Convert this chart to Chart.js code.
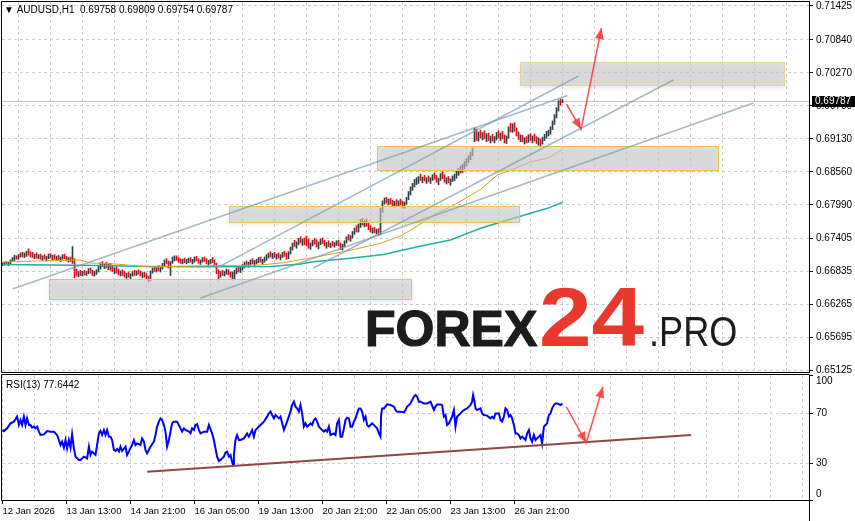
<!DOCTYPE html>
<html>
<head>
<meta charset="utf-8">
<script src="https://cdn.jsdelivr.net/npm/chart.js@4.4.1/dist/chart.umd.min.js"></script>
<style>
  html, body { margin: 0; padding: 0; background: #fff; }
  #wrap { position: relative; width: 855px; height: 521px; overflow: hidden; }
  #main { position: absolute; left: 0; top: 0; }
  #rsi { position: absolute; left: 0; top: 373px; }
</style>
</head>
<body>
<div id="wrap">
  <canvas id="main" width="855" height="373"></canvas>
  <canvas id="rsi" width="855" height="148"></canvas>
</div>
<script>
// AUDUSD H1, one candle per hour from 12 Jan 2026 05:00
const symbol = 'AUDUSD,H1';
const firstOpen = 0.6695;
const highs = [
  0.6699,0.6700,0.6701,0.6700,0.6704,0.6708,0.6712,0.6711,0.6713,0.6716,
  0.6717,0.6716,0.6719,0.6723,0.6718,0.6717,0.6714,0.6716,0.6713,0.6714,
  0.6711,0.6713,0.6710,0.6714,0.6715,0.6712,0.6713,0.6710,0.6712,0.6709,
  0.6713,0.6714,0.6710,0.6708,0.6709,0.6727,0.6706,0.6688,0.6684,0.6686,
  0.6684,0.6686,0.6684,0.6689,0.6690,0.6686,0.6684,0.6687,0.6693,0.6699,
  0.6701,0.6698,0.6700,0.6697,0.6698,0.6694,0.6690,0.6692,0.6688,0.6685,
  0.6687,0.6684,0.6681,0.6683,0.6680,0.6684,0.6686,0.6685,0.6687,0.6685,
  0.6682,0.6683,0.6680,0.6676,0.6685,0.6690,0.6692,0.6691,0.6694,0.6693,
  0.6698,0.6704,0.6706,0.6702,0.6701,0.6709,0.6711,0.6711,0.6708,0.6706,
  0.6705,0.6707,0.6705,0.6707,0.6708,0.6705,0.6709,0.6710,0.6706,0.6704,
  0.6708,0.6709,0.6706,0.6703,0.6705,0.6708,0.6704,0.6698,0.6687,0.6684,
  0.6686,0.6684,0.6688,0.6687,0.6683,0.6683,0.6686,0.6690,0.6693,0.6692,
  0.6696,0.6700,0.6702,0.6700,0.6704,0.6706,0.6703,0.6705,0.6708,0.6709,
  0.6705,0.6709,0.6713,0.6716,0.6718,0.6715,0.6717,0.6714,0.6716,0.6713,
  0.6717,0.6719,0.6716,0.6718,0.6726,0.6733,0.6738,0.6735,0.6741,0.6744,
  0.6740,0.6742,0.6745,0.6740,0.6733,0.6738,0.6741,0.6739,0.6735,0.6740,
  0.6742,0.6738,0.6734,0.6737,0.6733,0.6736,0.6734,0.6737,0.6738,0.6733,
  0.6731,0.6737,0.6744,0.6748,0.6746,0.6753,0.6759,0.6763,0.6766,0.6774,
  0.6776,0.6772,0.6775,0.6768,0.6763,0.6759,0.6760,0.6757,0.6758,0.6793,
  0.6806,0.6811,0.6812,0.6809,0.6810,0.6807,0.6805,0.6808,0.6806,0.6809,
  0.6805,0.6804,0.6812,0.6822,0.6830,0.6836,0.6843,0.6846,0.6848,0.6852,
  0.6847,0.6850,0.6846,0.6849,0.6846,0.6851,0.6854,0.6850,0.6845,0.6853,
  0.6856,0.6851,0.6846,0.6848,0.6844,0.6849,0.6852,0.6857,0.6862,0.6866,
  0.6869,0.6874,0.6879,0.6884,0.6890,0.6897,0.6932,0.6930,0.6925,0.6928,
  0.6924,0.6927,0.6922,0.6923,0.6918,0.6921,0.6917,0.6924,0.6927,0.6923,
  0.6926,0.6920,0.6918,0.6934,0.6940,0.6939,0.6941,0.6932,0.6925,0.6920,
  0.6919,0.6915,0.6917,0.6920,0.6922,0.6918,0.6921,0.6917,0.6915,0.6913,
  0.6916,0.6921,0.6926,0.6928,0.6934,0.6944,0.6955,0.6967,0.6979,0.6982,0.69809
];
const lows = [
  0.6694,0.6695,0.6696,0.6694,0.6697,0.6701,0.6703,0.6705,0.6705,0.6709,
  0.6709,0.6708,0.6710,0.6712,0.6709,0.6708,0.6706,0.6707,0.6706,0.6705,
  0.6703,0.6705,0.6702,0.6706,0.6707,0.6704,0.6705,0.6703,0.6704,0.6701,
  0.6705,0.6706,0.6702,0.6700,0.6701,0.6698,0.6673,0.6676,0.6675,0.6677,
  0.6676,0.6678,0.6677,0.6680,0.6681,0.6677,0.6676,0.6679,0.6683,0.6688,
  0.6692,0.6689,0.6690,0.6687,0.6686,0.6684,0.6680,0.6681,0.6678,0.6676,
  0.6677,0.6674,0.6672,0.6674,0.6671,0.6676,0.6677,0.6677,0.6679,0.6676,
  0.6673,0.6674,0.6670,0.6666,0.6668,0.6681,0.6684,0.6683,0.6685,0.6683,
  0.6688,0.6694,0.6697,0.6690,0.6677,0.6698,0.6702,0.6703,0.6700,0.6698,
  0.6697,0.6699,0.6697,0.6699,0.6700,0.6697,0.6700,0.6702,0.6698,0.6696,
  0.6700,0.6701,0.6697,0.6695,0.6697,0.6699,0.6694,0.6680,0.6669,0.6674,
  0.6677,0.6676,0.6679,0.6678,0.6674,0.6669,0.6671,0.6680,0.6683,0.6682,
  0.6686,0.6690,0.6693,0.6691,0.6695,0.6697,0.6694,0.6697,0.6699,0.6700,
  0.6696,0.6700,0.6703,0.6707,0.6709,0.6706,0.6708,0.6705,0.6707,0.6704,
  0.6708,0.6710,0.6705,0.6706,0.6714,0.6721,0.6727,0.6724,0.6730,0.6733,
  0.6729,0.6730,0.6728,0.6724,0.6722,0.6728,0.6731,0.6726,0.6723,0.6730,
  0.6732,0.6728,0.6724,0.6727,0.6725,0.6728,0.6726,0.6729,0.6728,0.6722,
  0.6721,0.6727,0.6733,0.6738,0.6736,0.6742,0.6748,0.6752,0.6752,0.6760,
  0.6764,0.6761,0.6762,0.6756,0.6752,0.6750,0.6751,0.6749,0.6747,0.6748,
  0.6786,0.6800,0.6802,0.6799,0.6800,0.6797,0.6795,0.6798,0.6796,0.6799,
  0.6794,0.6793,0.6800,0.6808,0.6816,0.6824,0.6830,0.6834,0.6836,0.6841,
  0.6837,0.6840,0.6836,0.6839,0.6836,0.6841,0.6843,0.6838,0.6834,0.6841,
  0.6844,0.6838,0.6835,0.6837,0.6833,0.6839,0.6841,0.6845,0.6850,0.6854,
  0.6855,0.6861,0.6866,0.6872,0.6877,0.6884,0.6908,0.6910,0.6909,0.6914,
  0.6911,0.6913,0.6908,0.6910,0.6906,0.6909,0.6906,0.6911,0.6914,0.6910,
  0.6913,0.6906,0.6905,0.6914,0.6925,0.6924,0.6926,0.6918,0.6912,0.6908,
  0.6908,0.6904,0.6906,0.6907,0.6910,0.6906,0.6909,0.6905,0.6902,0.6899,
  0.6904,0.6910,0.6914,0.6918,0.6921,0.6929,0.6938,0.6949,0.6961,0.6971,0.69754
];
const closes = [
  0.6697,0.6699,0.6697,0.6699,0.6703,0.6706,0.6710,0.6707,0.6712,0.6713,
  0.6711,0.6714,0.6717,0.6715,0.6712,0.6710,0.6713,0.6709,0.6711,0.6707,
  0.6709,0.6706,0.6708,0.6712,0.6709,0.6710,0.6707,0.6708,0.6706,0.6707,
  0.6711,0.6708,0.6705,0.6706,0.6703,0.6704,0.6684,0.6679,0.6681,0.6679,
  0.6682,0.6680,0.6683,0.6687,0.6683,0.6680,0.6682,0.6685,0.6691,0.6696,
  0.6694,0.6696,0.6692,0.6695,0.6689,0.6686,0.6688,0.6683,0.6680,0.6683,
  0.6679,0.6676,0.6679,0.6676,0.6678,0.6682,0.6680,0.6683,0.6681,0.6678,
  0.6680,0.6676,0.6672,0.6669,0.6683,0.6688,0.6686,0.6689,0.6687,0.6691,
  0.6696,0.6701,0.6699,0.6692,0.6699,0.6707,0.6709,0.6706,0.6703,0.6701,
  0.6703,0.6701,0.6703,0.6705,0.6702,0.6703,0.6707,0.6704,0.6700,0.6702,
  0.6706,0.6703,0.6699,0.6701,0.6703,0.6701,0.6696,0.6683,0.6676,0.6682,
  0.6680,0.6682,0.6685,0.6680,0.6677,0.6681,0.6684,0.6688,0.6686,0.6690,
  0.6694,0.6697,0.6695,0.6698,0.6702,0.6700,0.6701,0.6703,0.6706,0.6702,
  0.6703,0.6707,0.6711,0.6714,0.6712,0.6713,0.6710,0.6711,0.6709,0.6711,
  0.6715,0.6712,0.6708,0.6716,0.6724,0.6731,0.6729,0.6733,0.6739,0.6736,
  0.6738,0.6733,0.6730,0.6727,0.6731,0.6736,0.6733,0.6728,0.6733,0.6738,
  0.6734,0.6730,0.6732,0.6729,0.6731,0.6730,0.6732,0.6735,0.6730,0.6725,
  0.6729,0.6735,0.6741,0.6740,0.6744,0.6751,0.6756,0.6754,0.6763,0.6771,
  0.6766,0.6769,0.6764,0.6758,0.6755,0.6757,0.6753,0.6755,0.6750,0.6789,
  0.6803,0.6808,0.6804,0.6806,0.6802,0.6800,0.6803,0.6801,0.6804,0.6801,
  0.6797,0.6801,0.6810,0.6819,0.6827,0.6833,0.6838,0.6841,0.6845,0.6843,
  0.6844,0.6842,0.6843,0.6841,0.6844,0.6849,0.6846,0.6840,0.6843,0.6850,
  0.6847,0.6841,0.6843,0.6839,0.6842,0.6847,0.6850,0.6855,0.6859,0.6857,
  0.6866,0.6871,0.6877,0.6881,0.6887,0.6894,0.6927,0.6914,0.6921,0.6917,
  0.6920,0.6915,0.6918,0.6912,0.6915,0.6911,0.6914,0.6921,0.6917,0.6920,
  0.6916,0.6909,0.6915,0.6931,0.6928,0.6936,0.6929,0.6921,0.6915,0.6917,
  0.6911,0.6912,0.6909,0.6917,0.6913,0.6915,0.6912,0.6908,0.6911,0.6906,
  0.6914,0.6918,0.6923,0.6926,0.6931,0.6941,0.6952,0.6964,0.6977,0.69758,0.69787
];
// each candle opens where the previous one closed
const opens = closes.map((c, i) => i === 0 ? firstOpen : closes[i - 1]);

// moving averages (orange and teal), read at a few bars
const maFastBars = [0,16.5,39,44,56.5,74,94,109,129,140.5,157.5,174,189,199,207.5,215.5,224,239,247.5,255.5,264,272.5,280];
const maFastValues = [0.67003,0.67020,0.67037,0.66986,0.66968,0.66917,0.66934,0.66942,0.66951,0.66991,0.67094,0.67205,0.67326,0.67452,0.67625,0.67815,0.67953,0.68255,0.68506,0.68609,0.68735,0.68794,0.68950];
const maSlowBars = [0,24,49,74,99,134,149,155.5,174,190.5,207.5,224,239,255.5,272.5,280];
const maSlowValues = [0.66960,0.66951,0.66942,0.66925,0.66922,0.66925,0.66968,0.67008,0.67067,0.67132,0.67267,0.67383,0.67585,0.67758,0.67930,0.68034];

// RSI(13)
const rsiBars = [
  0,0.7,2.3,4,5.7,7.3,8.2,9,9.8,10.7,
  11.5,12.3,13.2,14,14.8,15.7,16.5,17.3,18.2,19,
  20.7,22.3,24,25.7,27.3,28.2,29,29.8,30.7,31.5,
  32.3,33.2,34,34.8,35.7,36.5,38.2,39,40.7,42.3,
  43.2,44,44.8,46.5,47.3,48.2,49,49.8,50.7,51.5,
  52.3,53.2,54,54.8,55.7,56.5,57.3,58.2,59,59.8,
  61.5,62.3,63.2,64,64.8,65.7,66.5,67.3,69,69.8,
  70.7,71.5,72.3,73.2,74,75.7,76.5,77.3,78.2,79,
  79.8,80.7,81.5,82.3,83.2,84,84.8,85.7,87.3,89,
  89.8,90.7,91.5,93.2,94,94.8,95.7,96.5,97.3,98.2,
  99,100.7,102.3,103.2,104,104.8,105.7,106.5,107.3,108.2,
  109,109.8,110.7,111.5,112.3,113.2,114,114.8,115.3,115.7,
  116.5,117.3,118.2,119,120.7,122.3,123.2,124,124.8,125.7,
  126.5,127.3,129,130.7,132.3,133.2,134,134.8,135.7,136.5,
  138.2,139,140.7,142.3,144,144.8,145.7,146.5,147.3,148.2,
  149,149.8,150.7,151.5,152.3,153.2,154,154.8,155.7,156.5,
  157.3,158.2,159,160.7,161.5,162.3,163.2,164,165.7,166.5,
  167.3,168.2,169,169.8,170.7,171.5,172.3,173.2,174,174.8,
  175.7,176.5,177.3,178.2,179,179.8,180.7,181.5,182.3,183.2,
  184,184.8,186.5,187.3,188.2,189,189.3,189.8,190.7,192.3,
  194,195.7,196.5,197.3,199,200.7,201.5,202.3,203.2,204,
  205.7,206.5,207.3,208.2,209,210.7,212.3,214,215.7,216.5,
  217.3,219,219.8,220.7,221.5,222.3,223.2,224,224.8,225.7,
  226.5,227.3,228.2,229,229.8,230.7,232.3,233.2,234,234.8,
  235.3,236,236.5,237.3,239,239.8,240.7,242.3,244,244.8,
  245.7,246.5,248.2,249,249.8,250.7,251.5,252.3,253.2,254,
  254.8,255.7,256.5,257.3,258.2,259,259.8,261.5,262.3,263.2,
  264,264.8,265.7,266.5,267.3,268.2,269,269.8,270.7,271.5,
  272.3,273.2,274,274.8,275.7,276.5,277.3,279,280
];
const rsiValues = [
  56.4,55.5,57.7,61.7,63.1,67.1,60.4,64.4,60.4,67.1,
  60.4,65.7,60.4,60.4,58.3,59.1,57.7,59.1,55.1,52.4,
  52.9,55.6,55.1,55.1,52.4,48.4,44.4,47.1,42.3,48.4,
  41.7,48.4,42.3,52.9,41.7,35.1,32.4,32.4,35.1,33.7,
  43.1,36.4,39.1,36.4,44.4,53.7,55.6,52.4,56.4,52.4,
  56.4,51.1,51.1,48.4,40.4,39.6,41.2,39.1,43.1,39.6,
  43.1,36.4,39.1,42.3,44.4,48.4,44.4,45.7,44.4,49.7,
  47.1,40.4,37.7,40.4,43.1,47.1,52.4,59.1,63.1,65.7,
  64.4,60.4,55.1,43.1,48.4,55.1,61.7,63.1,63.1,57.7,
  55.1,57.7,56.4,55.1,53.7,57.7,56.4,60.4,61,56.4,
  53.7,55.1,55.1,60.4,57.2,53.7,48.4,41.7,35.1,31.6,
  32.4,33.7,35.1,38.5,39.1,35.1,36.4,31.1,28.4,36.4,
  48.4,52.4,48.4,48.4,49.7,53.7,51.1,53.7,56.4,51.1,
  56.4,57.7,60.4,63.1,67.1,69.7,71.1,68.4,65.7,68.4,
  65.7,67.1,56.4,63.1,71.1,76.4,79.1,75.1,73.7,71.1,
  76.4,69.7,59.1,61.7,59.1,60.4,61.7,60.4,64.4,65.7,
  63.1,59.1,57.7,55.1,56.4,55.1,59.1,52.4,53.7,52.4,
  61.7,64.4,51.1,51.1,57.7,64.4,66.3,65.7,59.1,59.1,
  63.1,65.7,69.7,73.7,73.7,71.1,64.4,67.1,60.4,59.1,
  60.4,61.7,59.1,57.7,53.7,51.1,68.4,73.7,73.7,76.9,
  76.4,75.1,72.4,71.1,71.1,70.5,72.4,75.1,76.4,77.7,
  83.1,84.4,83.1,79.1,79.1,77.7,77.7,79.1,72.4,75.1,
  76.9,76.9,76.4,67.1,68.4,60.4,61.7,64.4,67.1,72.4,
  59.1,67.1,68.4,69.7,71.1,72.4,73.7,75.1,76.4,79.1,
  84.4,79.1,73.7,72.4,73.7,69.7,68.4,67.9,65.7,67.1,
  65.7,69.7,69.7,64.4,63.1,67.1,73.7,72.4,67.1,68.4,
  65.7,60.4,53.7,53.7,52.4,49.7,51.1,48.4,53.7,56.4,
  49.7,47.1,52.4,48.4,49.7,51.1,52.4,45.7,59.1,60.4,
  61.7,68.4,69.7,73.7,76.4,77.7,77.7,76.4,77.6442
];

// axis ticks and time labels
const priceTicks = [0.71425,0.70840,0.70270,0.69700,0.69130,0.68560,0.67990,0.67405,0.66835,0.66265,0.65695,0.65125];
const rsiTicks = [100, 70, 30, 0];
const timeLabels = ['12 Jan 2026','13 Jan 13:00','14 Jan 21:00','16 Jan 05:00','19 Jan 13:00','20 Jan 21:00','22 Jan 05:00','23 Jan 13:00','26 Jan 21:00'];

// drawn objects: zones, trend lines, forecast arrows
const zoneFrom = [23, 113, 187, 258.5];
const zoneTo = [204, 258, 357.5, 390.5];
const zoneHigh = [0.66709, 0.67970, 0.69007, 0.70458];
const zoneLow = [0.66364, 0.67694, 0.68592, 0.70060];
const trendFromBar = [5, 155.5, 99, 108];
const trendFromPrice = [0.66536, 0.66899, 0.66381, 0.66916];
const trendToBar = [282.5, 335.4, 375.5, 288];
const trendToPrice = [0.69879, 0.70147, 0.69749, 0.70216];
const arrowBars = [282, 289.3, 299.5];
const arrowPrices = [0.69732, 0.69295, 0.71045];
const rsiTrendBars = [72.3, 344.3];
const rsiTrendValues = [23.0, 52.4];
const rsiArrowBars = [281.9, 291.9, 300.2];
const rsiArrowValues = [75.0, 46.2, 91.0];

const last = closes.length - 1;
const xMin = -0.25, xMax = 403.25;
const gridBars = [];
for (let b = 0; b <= 400; b += 16) gridBars.push(b);

const FONT = '"Liberation Sans", Arial, sans-serif';
Chart.defaults.font.family = FONT;
Chart.defaults.font.size = 10;
Chart.defaults.color = '#000';

const gridColor = '#cdcdcd';
const arrowColor = 'rgba(255,60,60,0.9)';

function drawHeads(chart, label) {
  const idx = chart.data.datasets.findIndex(d => d.label === label);
  const pts = chart.getDatasetMeta(idx).data;
  const ctx = chart.ctx;
  ctx.save();
  ctx.fillStyle = arrowColor;
  for (let k = 1; k < pts.length; k++) {
    const a = pts[k - 1], b = pts[k];
    const ang = Math.atan2(b.y - a.y, b.x - a.x);
    const c = Math.cos(ang), s = Math.sin(ang);
    ctx.beginPath();
    ctx.moveTo(b.x, b.y);
    ctx.lineTo(b.x - 11 * c + 4.5 * s, b.y - 11 * s - 4.5 * c);
    ctx.lineTo(b.x - 11 * c - 4.5 * s, b.y - 11 * s + 4.5 * c);
    ctx.closePath();
    ctx.fill();
  }
  ctx.restore();
}

function drawFrame(chart) {
  const { ctx, chartArea: a } = chart;
  ctx.save();
  ctx.strokeStyle = '#000';
  ctx.lineWidth = 1;
  ctx.beginPath();
  ctx.moveTo(a.right + 0.5, a.top - 0.5);
  ctx.lineTo(a.left - 0.5, a.top - 0.5);
  ctx.lineTo(a.left - 0.5, a.bottom + 0.5);
  ctx.lineTo(a.right + 0.5, a.bottom + 0.5);
  ctx.moveTo(a.right + 0.5, a.top - 0.5);
  ctx.lineTo(a.right + 0.5, chart.height);
  ctx.stroke();
  ctx.restore();
}

// chart area must not shrink for the half-height of edge labels
function noEdgePadding(s) {
  s.paddingTop = 0; s.paddingBottom = 0; s.paddingLeft = 0; s.paddingRight = 0;
}

const mainPlugin = {
  id: 'mainExtras',
  beforeDatasetsDraw(chart) {
    const ctx = chart.ctx;
    ctx.save();
    ctx.textBaseline = 'alphabetic';
    ctx.fillStyle = '#1c1c1c';
    ctx.strokeStyle = '#1c1c1c';
    ctx.lineWidth = 1.2;
    ctx.font = 'bold 50px ' + FONT;
    ctx.fillText('FOREX', 365, 346);
    ctx.strokeText('FOREX', 365, 346);
    ctx.save();
    ctx.translate(539, 346);
    ctx.scale(1.14, 1);
    ctx.fillStyle = '#e8392c';
    ctx.font = 'bold 83px ' + FONT;
    ctx.fillText('24', 0, 0);
    ctx.restore();
    ctx.save();
    ctx.translate(649, 346);
    ctx.scale(0.86, 1);
    ctx.font = '42px ' + FONT;
    ctx.fillText('.PRO', 0, 0);
    ctx.restore();
    // bid line
    const y = Math.round(chart.scales.y.getPixelForValue(closes[last])) + 0.5;
    ctx.strokeStyle = '#c8c8c8';
    ctx.lineWidth = 1;
    ctx.beginPath();
    ctx.moveTo(chart.chartArea.left, y);
    ctx.lineTo(chart.chartArea.right, y);
    ctx.stroke();
    ctx.restore();
  },
  afterDatasetDraw(chart, args) {
    if (chart.data.datasets[args.index].label !== 'MA fast') return;
    const { ctx, scales: { x, y } } = chart;
    ctx.save();
    zoneFrom.forEach((from, i) => {
      const x1 = Math.round(x.getPixelForValue(from)), x2 = Math.round(x.getPixelForValue(zoneTo[i]));
      const y1 = Math.round(y.getPixelForValue(zoneHigh[i])), y2 = Math.round(y.getPixelForValue(zoneLow[i]));
      ctx.shadowColor = 'rgba(0,0,0,0.18)';
      ctx.shadowBlur = 5;
      ctx.shadowOffsetX = 1;
      ctx.shadowOffsetY = 2;
      ctx.fillStyle = 'rgba(208,208,208,0.6)';
      ctx.fillRect(x1, y1, x2 - x1, y2 - y1);
      ctx.shadowColor = 'transparent';
      ctx.strokeStyle = i === 3 ? '#e9cf98' : '#f2bd5c';
      ctx.lineWidth = 1;
      ctx.strokeRect(x1 + 0.5, y1 + 0.5, x2 - x1, y2 - y1);
    });
    ctx.restore();
  },
  afterDatasetsDraw(chart) {
    drawHeads(chart, 'forecast');
  },
  afterDraw(chart) {
    drawFrame(chart);
    const ctx = chart.ctx;
    ctx.save();
    ctx.font = '10px ' + FONT;
    ctx.textBaseline = 'middle';
    ctx.fillStyle = '#000';
    const f = v => v.toFixed(5);
    ctx.fillText('\u25BC ' + symbol + '  ' + f(opens[last]) + ' ' + f(highs[last]) + ' ' + f(lows[last]) + ' ' + f(closes[last]), 4, 10);
    const y = chart.scales.y.getPixelForValue(closes[last]);
    ctx.fillRect(812, Math.round(y) - 5, 43, 11);
    ctx.fillStyle = '#fff';
    ctx.fillText(f(closes[last]), 815, Math.round(y) + 0.5);
    ctx.restore();
  }
};

const rsiPlugin = {
  id: 'rsiExtras',
  afterDatasetsDraw(chart) {
    drawHeads(chart, 'forecast');
  },
  afterDraw(chart) {
    drawFrame(chart);
    const ctx = chart.ctx;
    ctx.save();
    ctx.font = '10px ' + FONT;
    ctx.textBaseline = 'middle';
    ctx.fillStyle = '#000';
    ctx.fillText('RSI(13) ' + rsiValues[rsiValues.length - 1].toFixed(4), 6, 12);
    ctx.restore();
  }
};

const xGrid = {
  type: 'linear', min: xMin, max: xMax,
  afterBuildTicks: s => { s.ticks = gridBars.map(v => ({ value: v })); },
  border: { display: false, dash: [3, 3] },
  grid: { color: gridColor, drawTicks: false }
};

const lineSet = (label, xs, ys, color, width, order) => ({
  type: 'line', label, order,
  data: xs.map((b, i) => ({ x: b, y: ys[i] })),
  borderColor: color, borderWidth: width,
  pointRadius: 0, tension: 0, fill: false
});

const mainDatasets = [
  {
    type: 'bar', label: 'candles', order: 9,
    data: highs.map((h, i) => ({ x: i, y: [lows[i], h] })),
    backgroundColor: closes.map((c, i) => c >= opens[i] ? '#2e3d42' : '#e0101a'),
    barThickness: 1, grouped: false, borderWidth: 0
  },
  lineSet('MA slow', maSlowBars, maSlowValues, '#1fb1a6', 1.5, 8),
  lineSet('MA fast', maFastBars, maFastValues, '#dfa21a', 1, 7)
];
trendFromBar.forEach((b, i) => {
  mainDatasets.push(lineSet('trend ' + i, [b, trendToBar[i]], [trendFromPrice[i], trendToPrice[i]], 'rgba(125,155,175,0.7)', 1.5, 6));
});
mainDatasets.push(lineSet('forecast', arrowBars, arrowPrices, arrowColor, 1.5, 4));

new Chart(document.getElementById('main'), {
  type: 'bar',
  data: { datasets: mainDatasets },
  plugins: [mainPlugin],
  options: {
    responsive: false, animation: false, events: [],
    layout: { padding: { left: 2, top: 2, right: 0, bottom: 1 } },
    plugins: { legend: { display: false }, tooltip: { enabled: false } },
    scales: {
      x: Object.assign({}, xGrid, {
        offset: false,
        ticks: { display: false },
        afterFit: s => { s.height = 0; noEdgePadding(s); }
      }),
      y: {
        position: 'right', min: 0.65103, max: 0.71494,
        afterBuildTicks: s => { s.ticks = priceTicks.map(v => ({ value: v })); },
        afterFit: s => { s.width = 46; noEdgePadding(s); },
        ticks: { callback: v => v.toFixed(5), padding: 3, font: { size: 10 } },
        border: { display: true, color: '#000', dash: [3, 3] },
        grid: { color: gridColor, tickColor: '#000', tickLength: 4, tickBorderDash: [] }
      }
    }
  }
});

new Chart(document.getElementById('rsi'), {
  type: 'line',
  data: {
    datasets: [
      lineSet('RSI', rsiBars, rsiValues, '#0000ff', 2, 3),
      lineSet('support', rsiTrendBars, rsiTrendValues, '#8e4646', 2, 2),
      lineSet('forecast', rsiArrowBars, rsiArrowValues, arrowColor, 1.5, 1)
    ]
  },
  plugins: [rsiPlugin],
  options: {
    responsive: false, animation: false, events: [],
    layout: { padding: { left: 2, top: 2, right: 0, bottom: 0 } },
    plugins: { legend: { display: false }, tooltip: { enabled: false } },
    scales: {
      x: Object.assign({}, xGrid, {
        afterFit: s => { s.height = 21; noEdgePadding(s); },
        ticks: {
          autoSkip: false, maxRotation: 0, minRotation: 0, align: 'start', padding: 2,
          font: { size: 9.5 },
          callback: v => (v % 32 === 0 && timeLabels[v / 32]) ? timeLabels[v / 32] : ''
        },
        border: { display: true, color: '#000', dash: [3, 3] },
        grid: {
          color: gridColor, drawTicks: true, tickLength: 4, tickBorderDash: [],
          tickColor: c => (c.tick && c.tick.value % 32 === 0 && c.tick.value <= 256) ? '#000' : 'rgba(0,0,0,0)'
        }
      }),
      y: {
        position: 'right', min: 0.4, max: 100.4,
        afterBuildTicks: s => { s.ticks = rsiTicks.map(v => ({ value: v })); },
        afterFit: s => { s.width = 46; noEdgePadding(s); },
        ticks: {
          padding: 3,
          callback: v => v === 100 ? ['', '100'] : (v === 0 ? ['0', ''] : String(v))
        },
        border: { display: true, color: '#000', dash: [3, 3] },
        grid: {
          tickColor: '#000', tickLength: 4, tickBorderDash: [],
          color: c => (c.tick && (c.tick.value === 70 || c.tick.value === 30)) ? gridColor : 'rgba(0,0,0,0)'
        }
      }
    }
  }
});
</script>
</body>
</html>
